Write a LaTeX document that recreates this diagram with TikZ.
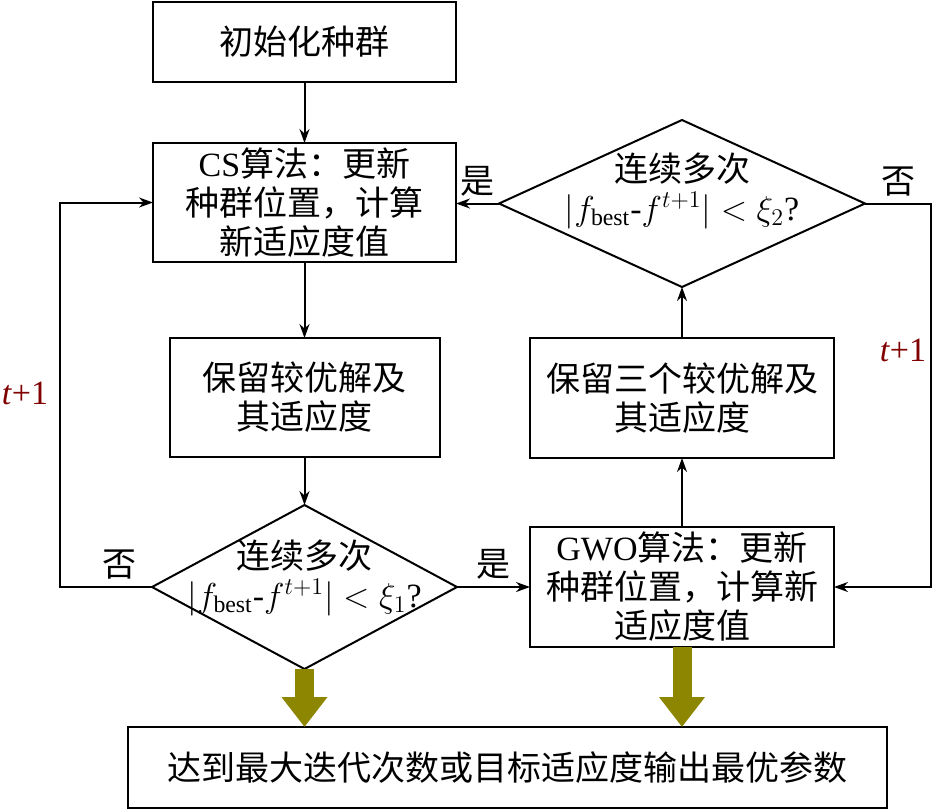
\documentclass[tikz,border=0pt]{standalone}
\usepackage{fontspec}
\setmainfont{Liberation Serif}
\newfontfamily\cjk{Noto Sans CJK SC}
\usetikzlibrary{shapes.geometric, arrows.meta, positioning}

\begin{document}
\begin{tikzpicture}[x=0.5pt, y=-0.5pt,
    font=\cjk\fontsize{17}{19.5}\selectfont,
    box/.style={draw, line width=1pt, align=center, inner sep=0pt, outer sep=0pt},
    cond/.style={diamond, draw, line width=1pt, inner sep=0pt, outer sep=0pt},
    flow/.style={line width=1pt, -{Stealth[length=7pt,width=5pt]}},
    big/.style={olive, line width=9.5pt, -{Triangle[length=15pt,width=22pt]}},
    iter/.style={text=red!50!black, font=\rmfamily\fontsize{17}{20}\selectfont}]
    \useasboundingbox (0,0) rectangle (936,811);
    % left column
        \node[box,
              minimum width=151.5pt, minimum height=40pt
              ] (init) at (304.5,42) {初始化种群};
		\node[box,
			below=30.5pt of init,
			minimum width=151.5pt, minimum height=59.5pt
        	] (cs) {{\rmfamily CS}算法：更新\\种群位置，计算\\新适应度值};
		\node[box,
			below=38pt of cs,
			minimum width=135pt, minimum height=59.5pt
        	] (keep) {保留较优解及\\其适应度};
		\node[cond,
			below=24pt of keep,
			minimum width=152.5pt, minimum height=82pt
        	] (judge1) {};
		\node[align=center, yshift=4.5pt] (txt1) at (judge1)
			{连续多次\\{\rmfamily$|f_{\mathrm{best}}$-$f^{t+1}|<\xi_1$?}};
    % right column
		\node[box,
			right=36.5pt of judge1,
			minimum width=152pt, minimum height=60pt
        	] (gwo) {{\rmfamily GWO}算法：更新\\种群位置，计算新\\适应度值};
		\node[box,
			above=34.5pt of gwo,
			minimum width=152pt, minimum height=60pt
        	] (keep3) {保留三个较优解及\\其适应度};
		\node[cond,
			above=25.5pt of keep3,
			minimum width=183pt, minimum height=83.5pt
        	] (judge2) {};
		\node[align=center, yshift=6.5pt] (txt2) at (judge2)
			{连续多次\\{\rmfamily$|f_{\mathrm{best}}$-$f^{t+1}|<\xi_2$?}};
    % output
		\node[box,
			minimum width=379.5pt, minimum height=40.5pt
			] (out) at (507.5,767.5) {达到最大迭代次数或目标适应度输出最优参数};
		\coordinate (lft) at (60,400);
		\coordinate (rgt) at (931,400);
		\node[iter] (t1) at (25,393) {\textit{t}+1};
		\node[iter] (t2) at (903,350) {\textit{t}+1};

       \draw[flow] (init) -- (cs);
       \draw[flow] (cs) -- (keep);
       \draw[flow] (keep) -- (judge1);
       \draw[flow] (judge1) -- node[above] {是} (gwo);
       \draw[flow] (gwo) -- (keep3);
       \draw[flow] (keep3) -- (judge2);
       \draw[flow] (judge2.west) -- node[above] {是} (cs.east |- judge2.west);
       \draw[flow] (judge1.west) -- node[above, pos=0.35] {否} (lft |- judge1.west)
			-- (lft |- cs.west) -- (cs.west);
       \draw[flow] (judge2.east) -- node[above] {否} (rgt |- judge2.east)
			-- (rgt |- gwo.east) -- (gwo.east);
       \draw[big] (judge1.south) -- (judge1.south |- out.north);
       \draw[big] (gwo.south) -- (gwo.south |- out.north);
    \end{tikzpicture}
\end{document}
